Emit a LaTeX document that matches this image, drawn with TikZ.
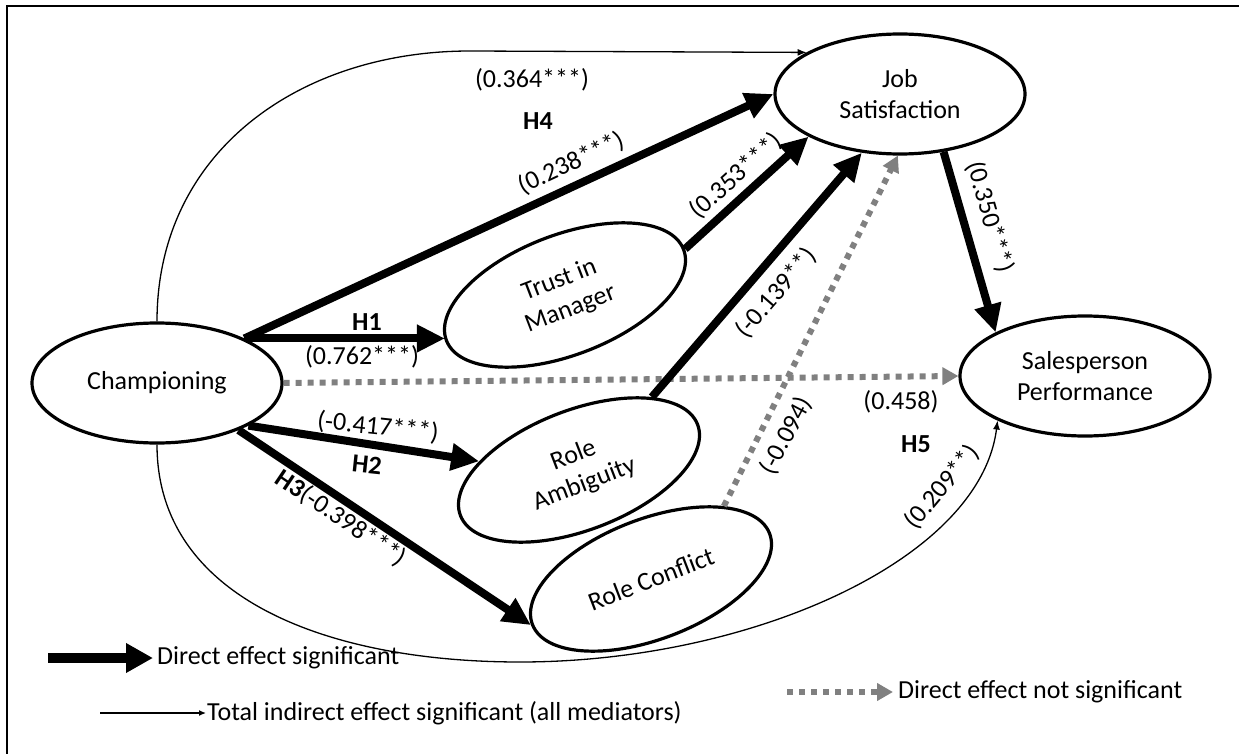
\documentclass[tikz,border=0pt]{standalone}
\usepackage{fontspec}
\setmainfont{Carlito}
\usetikzlibrary{arrows.meta,shapes.geometric}
\definecolor{dotgray}{RGB}{128,128,128}
\begin{document}
\begin{tikzpicture}[x=1pt,y=-1pt,
  every node/.style={font=\fontsize{26}{31}\selectfont},
  construct/.style={ellipse,draw,line width=3.2pt,inner sep=0pt,minimum width=250pt,minimum height=120pt,align=center,fill=white},
  rconstruct/.style={construct,minimum width=254pt,rotate=21},
  sig/.style={line width=8pt,-{Triangle[length=28pt,width=26pt]}},
  indirect/.style={line width=1.3pt,-{Latex[length=9pt,width=7pt]}},
  nonsig/.style={dotgray,line width=6pt,dash pattern=on 6pt off 6pt,-{Triangle[length=16pt,width=17pt]}},
  lab/.style={inner sep=1pt},
  hyp/.style={inner sep=1pt,font=\fontsize{26}{31}\selectfont\bfseries}]
\useasboundingbox (0,0) rectangle (1239,754);
% frame
\draw[line width=1.8pt] (7,754) -- (7,6) -- (1239,6);
% constructs
\node[construct] (champ) at (157,383) {Championing};
\node[construct] (jobsat) at (900,94) {Job\\Satisfaction};
\node[construct] (sp) at (1085,376) {Salesperson\\Performance};
\node[rconstruct] (trust) at (565,295) {Trust in\\Manager};
\node[rconstruct] (ramb) at (579,470) {Role\\Ambiguity};
\node[rconstruct] (rconf) at (651,579) {Role Conflict};
% indirect curves
\coordinate (tc) at (470,51);
\draw[indirect] (champ.north) .. controls +(0,-170) and (300,51) .. (tc) -- (jobsat.156);
\coordinate (bc) at (520,662);
\draw[indirect] (champ.south) .. controls +(0,155) and (330,662) .. (bc) .. controls (750,662) and (980,560) .. (sp.207);
% direct effects
\draw[nonsig] (champ.east) -- (sp.west);
\draw[nonsig] (rconf.24) -- (jobsat.268);
\draw[sig] (champ.27) -- (jobsat.west);
\draw[sig] (champ.27) -- (champ.27 -| trust.west);
\draw[sig] (trust.east) -- (jobsat.205);
\draw[sig] (ramb.24) -- (jobsat.237);
\draw[sig] (jobsat.307) -- (sp.154);
\draw[sig] (champ.335) -- (ramb.154);
\draw[sig] (champ.330) -- (rconf.west);
% labels
\node[lab] (l364) at (532,80) {(0.364***)};
\node[hyp] (h4) at (538,121) {H4};
\node[lab,rotate=25] (l238) at (571,163) {(0.238***)};
\node[lab,rotate=42] (l353) at (736,176) {(0.353***)};
\node[lab,rotate=49] (l139) at (776,293) {(-0.139**)};
\node[lab,rotate=62] (l094) at (786,436) {(-0.094)};
\node[lab,rotate=-74] (l350) at (990,217) {(0.350***)};
\node[hyp] (h1) at (367,322) {H1};
\node[lab] (l762) at (362,357) {(0.762***)};
\node[lab,rotate=-6] (l417) at (378,427) {(-0.417***)};
\node[hyp,rotate=-6] (h2) at (367,465) {H2};
\node[lab,rotate=-34] (l398) at (341,518) {\textbf{H3}(-0.398***)};
\node[lab] (l458) at (901,402) {(0.458)};
\node[hyp] (h5) at (916,444) {H5};
\node[lab,rotate=50] (l209) at (942,487) {(0.209**)};
% legend
\coordinate (la1) at (48,658); \coordinate (la2) at (153,658);
\draw[line width=10pt,-{Triangle[length=27pt,width=28pt]}] (la1) -- (la2);
\node[anchor=west,inner sep=0pt] (lt1) at (157,658) {Direct effect significant};
\coordinate (lb1) at (100,713); \coordinate (lb2) at (206,713);
\draw[line width=1.3pt,-{Latex[length=7pt,width=6pt]}] (lb1) -- (lb2);
\node[anchor=west,inner sep=0pt] (lt2) at (207,713) {Total indirect effect significant (all mediators)};
\coordinate (lc1) at (787,692); \coordinate (lc2) at (893,692);
\draw[nonsig] (lc1) -- (lc2);
\node[anchor=west,inner sep=0pt] (lt3) at (898,692) {Direct effect not significant};
\end{tikzpicture}
\end{document}
